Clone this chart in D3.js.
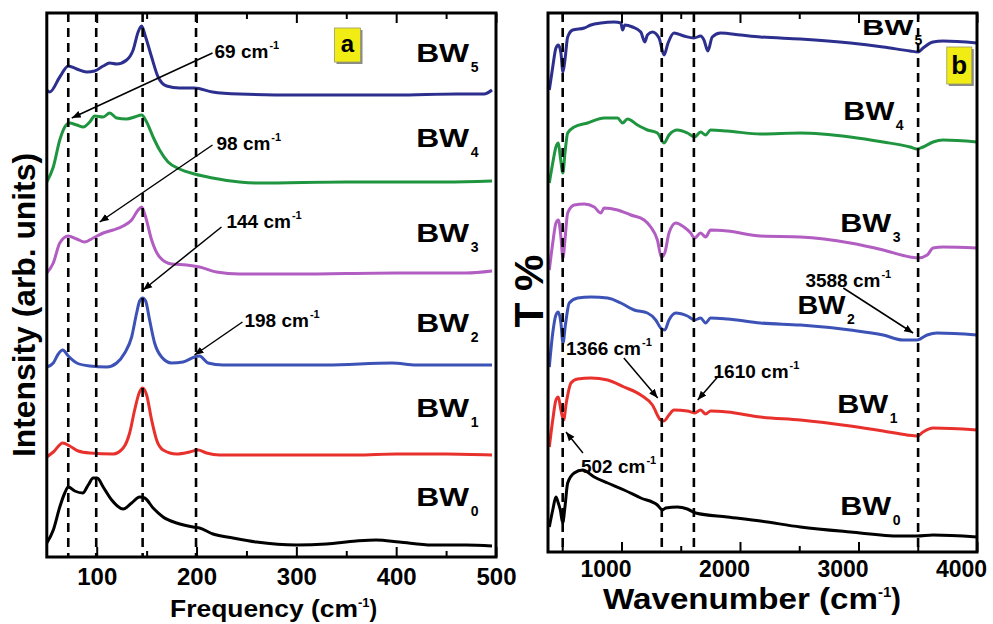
<!DOCTYPE html>
<html><head><meta charset="utf-8">
<script src="https://cdn.jsdelivr.net/npm/d3@7"></script>
<style>body{margin:0;background:#fff}svg{display:block}text{font-family:"Liberation Sans",Arial,sans-serif;font-weight:bold}</style>
</head><body><svg id="c" width="993" height="624"></svg>
<script>
// ---------- DATA ----------
const seriesNames = ["BW0","BW1","BW2","BW3","BW4","BW5"];
const seriesColors = ["#000000","#e8302c","#3c52b6","#b15dc1","#1f9540","#2c2f8e"];

// Panel a: Raman, [frequency cm-1, intensity (offset, arb.)]
const ramanBW0 = [[50,14],[56.5,27],[63,50],[68,64],[71.5,70],[78,66],[86,64],[91.5,72],[96.5,79],[100.5,79],[106.5,70],[115,57],[126.5,48],[135,54],[143,60],[148,59],[156.5,49],[166.5,40],[180,34],[196.5,30],[203,29],[216.5,23],[236.5,19],[260,15],[300,12],[330,13],[360,16],[380,17],[403,15],[436,12],[470,12],[496,11]];
const ramanBW1 = [[50,100],[56.5,105],[66,114],[73,111],[81.5,106],[93,104],[116.5,103],[126.5,109],[133,124],[138,147],[142.5,164],[146,169],[150,162],[155,137],[160,117],[166.5,107],[180,103],[193,105],[201.5,107],[210,104],[223,102],[300,102],[360,102],[400,103],[450,103],[496,102]];
const ramanBW2 = [[50,190],[56.5,194],[61.5,203],[66,207],[71.5,201],[80,194],[93,191],[110,190],[120,194],[128,204],[135,220],[140,244],[143,256],[146,259],[149,256],[153,237],[158,214],[165,200],[175,194],[186.5,195],[198,200],[203,201],[211.5,194],[226.5,192],[260,192],[330,192],[396,194],[420,192],[496,192]];
const ramanBW3 = [[50,284],[56.5,294],[63,314],[71.5,321],[80,318],[88,315],[96.5,319],[106.5,324],[116.5,327],[126.5,331],[135,337],[141.5,347],[145,350],[149,340],[155,317],[163,300],[175,293],[190,292],[203,290],[220,285],[243,283],[300,283],[400,284],[470,284],[496,286]];
const ramanBW4 = [[50,375],[56.5,390],[63,417],[68,430],[72.5,434],[80,432],[86.5,430],[93,435],[98,441],[106.5,440],[113,444],[120,439],[130,438],[138,440],[145,442],[150,435],[156.5,420],[163,407],[171.5,395],[183,388],[198,383],[216,379],[243,375],[263,374],[350,375],[450,375],[496,376]];
const ramanBW5 = [[50,467],[53,465],[63,480],[71.5,491],[80,488],[90,485],[98,486],[106.5,491],[113,494],[120,493],[130,497],[136.5,507],[141.5,525],[145,531],[149,520],[155,500],[161.5,480],[170,471],[183,469],[198,469],[216,465],[243,463],[300,462],[400,462],[460,463],[488,463],[496,467]];

// Panel b: FTIR, [wavenumber cm-1, T% (offset)]
const ftirBW0 = [[391,25],[420,42],[447,55],[467,49],[484,42],[504,29],[523,45],[546,69],[601,79],[672,82],[770,75],[883,69],[1022,62],[1163,54],[1303,47],[1346,42],[1373,44],[1472,45],[1556,43],[1626,39],[1893,35],[2173,31],[2510,25],[2931,20],[3352,16],[3495,16],[3629,17],[4000,15]];
const ftirBW1 = [[391,105],[420,132],[447,152],[467,155],[489,142],[512,132],[534,149],[574,169],[630,173],[742,174],[883,172],[1022,165],[1163,157],[1261,147],[1331,132],[1359,131],[1401,137],[1443,142],[1556,141],[1617,139],[1668,142],[1710,138],[1752,141],[1893,140],[2173,135],[2510,132],[2931,126],[3208,121],[3410,117],[3495,116],[3545,120],[3629,124],[4000,122]];
const ftirBW2 = [[391,185],[420,219],[447,237],[467,240],[489,229],[506,209],[529,229],[559,249],[630,254],[742,255],[883,254],[995,249],[1107,242],[1219,239],[1289,232],[1331,224],[1365,222],[1401,232],[1458,239],[1556,236],[1617,232],[1668,234],[1710,229],[1752,234],[1893,233],[2173,229],[2510,227],[2931,222],[3208,217],[3377,212],[3495,212],[3579,217],[3663,219],[4000,217]];
const ftirBW3 = [[391,282],[420,309],[447,329],[467,332],[489,315],[506,294],[523,312],[546,339],[601,347],[686,348],[770,345],[826,339],[854,344],[967,342],[1079,337],[1191,332],[1247,325],[1303,312],[1337,295],[1365,299],[1401,319],[1458,329],[1527,325],[1584,319],[1617,314],[1668,319],[1710,315],[1752,322],[1893,321],[2173,316],[2510,315],[2931,309],[3208,302],[3436,295],[3503,294],[3580,297],[3629,304],[3713,305],[4000,304]];
const ftirBW4 = [[391,369],[420,389],[447,405],[467,409],[484,395],[506,379],[523,399],[546,419],[601,425],[714,429],[854,434],[967,434],[1009,429],[1051,433],[1135,427],[1219,422],[1303,419],[1359,409],[1401,417],[1472,422],[1556,419],[1617,415],[1668,420],[1710,417],[1752,422],[1893,421],[2173,418],[2510,419],[2931,415],[3208,410],[3436,405],[3495,403],[3545,405],[3629,410],[3713,412],[4000,410]];
const ftirBW5 = [[391,462],[420,485],[447,504],[467,507],[489,499],[506,480],[523,492],[546,515],[588,522],[686,524],[742,527],[826,529],[938,530],[995,529],[1009,522],[1028,527],[1093,525],[1163,520],[1197,510],[1219,517],[1261,520],[1317,514],[1359,497],[1393,509],[1443,519],[1527,516],[1612,514],[1668,516],[1696,512],[1729,501],[1766,515],[1836,519],[2005,517],[2173,515],[2510,513],[2931,509],[3208,505],[3436,501],[3503,500],[3545,504],[3629,510],[3713,511],[4000,509]];

const ramanTicks = [100,200,300,400,500];
const ramanMinor = [150,250,350,450];
const ftirTicks = [1000,2000,3000,4000];
const ftirMinor = [500,1500,2500,3500];
const ramanDashed = [71.5,99.5,146,199.5];
const ftirDashed = [504,1340,1611,3503];

// label positions in data units: [x, y]
const ramanLabelPos = [[420,51],[420,140],[420,225],[420,315],[420,410],[420,495]];
const ftirLabelPos  = [[2846,37],[2821,139],[2485,238],[2846,320],[2872,432],[3032,517]];
// annotations: text, text anchor point, arrow tail, arrow tip
const ramanNotes = [
  {t:"69 cm", at:[218,499], tail:[216,504], tip:[75,439]},
  {t:"98 cm", at:[220,407], tail:[216,412], tip:[103,335]},
  {t:"144 cm", at:[230,329], tail:[225,330], tip:[146.5,267]},
  {t:"198 cm", at:[248,230], tail:[246,235], tip:[198,202]}
];
const ftirNotes = [
  {t:"3588 cm", at:[2552,265], tail:[2872,264], tip:[3461,219]},
  {t:"1366 cm", at:[532,197], tail:[1020,194], tip:[1306,154]},
  {t:"1610 cm", at:[1777,174], tail:[1811,175], tip:[1643,152]},
  {t:"502 cm", at:[658,79], tail:[675,99], tip:[532,120]}
];

// ---------- DRAW ----------
const svg = d3.select("#c");
svg.append("rect").attr("width",993).attr("height",624).attr("fill","#fff");
const defs = svg.append("defs");
defs.append("marker").attr("id","ah").attr("viewBox","0 0 10 10").attr("refX",10).attr("refY",5)
  .attr("markerWidth",9).attr("markerHeight",9).attr("markerUnits","userSpaceOnUse").attr("orient","auto")
  .append("path").attr("d","M0,1 L10,5 L0,9 Z").attr("fill","#000");

function panel(cfg){
  const {x,y,series,ticks,minor,dashed,labelPos,labelFont,notes,id,tickFont,tickPad,tickDx,noteFont} = cfg;
  const [x0,x1] = x.range(), [y0,y1] = y.range();
  const g = svg.append("g");
  defs.append("clipPath").attr("id","clip"+id).append("rect")
    .attr("x",x0).attr("y",y1).attr("width",x1-x0).attr("height",y0-y1);

  notes.forEach(n=>{
    const t = g.append("text").attr("x",x(n.at[0])).attr("y",y(n.at[1])).attr("font-size",noteFont).attr("fill","#000");
    t.append("tspan").text(n.t);
    t.append("tspan").attr("dy",-9).attr("dx",1).attr("font-size",11).text("-1");
  });

  const line = d3.line().x(d=>x(d[0])).y(d=>y(d[1])).curve(d3.curveMonotoneX);
  const cg = g.append("g").attr("clip-path",`url(#clip${id})`);
  series.forEach((s,i)=>{
    cg.append("path").attr("d",line(s)).attr("fill","none").attr("stroke",seriesColors[i])
      .attr("stroke-width",3).attr("stroke-linejoin","round");
  });
  cg.selectAll("line.d").data(dashed).join("line")
    .attr("x1",d=>x(d)).attr("x2",d=>x(d)).attr("y1",y1).attr("y2",y0)
    .attr("stroke","#000").attr("stroke-width",2.6).attr("stroke-dasharray","9,6");

  notes.forEach(n=>{
    g.append("line").attr("x1",x(n.tail[0])).attr("y1",y(n.tail[1]))
      .attr("x2",x(n.tip[0])).attr("y2",y(n.tip[1]))
      .attr("stroke","#000").attr("stroke-width",1.5).attr("marker-end","url(#ah)");
  });

  labelPos.forEach((p,i)=>{
    const fs = (id==="b" && i===5) ? 22 : labelFont;
    const tx = g.append("text").attr("x",x(p[0])).attr("y",y(p[1])).attr("font-size",fs).attr("fill","#000")
      .attr("textLength", id==="a"?53:(i===2?48:51)).attr("lengthAdjust","spacingAndGlyphs").text("BW");
    const bb = tx.node().getBBox();
    g.append("text").attr("x",bb.x+bb.width+1).attr("y",y(p[1])+10).attr("font-size",14).attr("fill","#000").text(seriesNames[i].slice(2));
  });

  const bottom = d3.axisBottom(x).tickValues(ticks).tickSize(-10).tickPadding(tickPad).tickFormat(d3.format("d"));
  const ab = g.append("g").attr("transform",`translate(0,${y0})`).call(bottom);
  ab.select(".domain").remove();
  ab.selectAll("line").attr("stroke-width",2);
  ab.selectAll("text").attr("font-size",tickFont).attr("font-family","Liberation Sans, Arial, sans-serif").attr("font-weight","bold").attr("dx",tickDx);
  const bm = g.append("g").attr("transform",`translate(0,${y0})`).call(d3.axisBottom(x).tickValues(minor).tickSize(-6).tickFormat(""));
  bm.select(".domain").remove(); bm.selectAll("line").attr("stroke-width",2);
  const at = g.append("g").attr("transform",`translate(0,${y1})`).call(d3.axisTop(x).tickValues(ticks).tickSize(-10).tickFormat(""));
  at.select(".domain").remove(); at.selectAll("line").attr("stroke-width",2);
  const tm = g.append("g").attr("transform",`translate(0,${y1})`).call(d3.axisTop(x).tickValues(minor).tickSize(-6).tickFormat(""));
  tm.select(".domain").remove(); tm.selectAll("line").attr("stroke-width",2);

  g.append("rect").attr("x",x0).attr("y",y1).attr("width",x1-x0).attr("height",y0-y1)
    .attr("fill","none").attr("stroke","#000").attr("stroke-width",3);
  return g;
}

const xa = d3.scaleLinear().domain([50,500]).range([46.8,496]);
const ya = d3.scaleLinear().domain([0,544]).range([557,13]);
const xb = d3.scaleLinear().domain([380,4000]).range([548,977]);
const yb = d3.scaleLinear().domain([0,539]).range([552,13]);

panel({id:"a",x:xa,y:ya,series:[ramanBW0,ramanBW1,ramanBW2,ramanBW3,ramanBW4,ramanBW5],
  ticks:ramanTicks,minor:ramanMinor,dashed:ramanDashed,labelPos:ramanLabelPos,labelFont:26,
  notes:ramanNotes,tickFont:24,tickPad:11,tickDx:0,noteFont:19});
panel({id:"b",x:xb,y:yb,series:[ftirBW0,ftirBW1,ftirBW2,ftirBW3,ftirBW4,ftirBW5],
  ticks:ftirTicks,minor:ftirMinor,dashed:ftirDashed,labelPos:ftirLabelPos,labelFont:25,
  notes:ftirNotes,tickFont:23,tickPad:9,tickDx:-16,noteFont:19});

function tag(x,y,dx,dy,w,h,letter,fs){
  const px=x(dx), py=y(dy);
  svg.append("rect").attr("x",px+2).attr("y",py+2).attr("width",w).attr("height",h).attr("fill","#8a8a8a");
  svg.append("rect").attr("x",px).attr("y",py).attr("width",w).attr("height",h).attr("fill","#f0ec14").attr("stroke","#9a9a60").attr("stroke-width",0.8);
  svg.append("text").attr("x",px+w/2).attr("y",py+h*0.72).attr("text-anchor","middle").attr("font-size",fs).text(letter);
}
tag(xa,ya,338.2,529,26,34,"a",24);
tag(xb,yb,3745,505,25,37,"b",26);

const ft = svg.append("text").attr("x",170).attr("y",617).attr("font-size",23);
ft.append("tspan").attr("textLength",188).attr("lengthAdjust","spacingAndGlyphs").text("Frequency (cm");
ft.append("tspan").attr("dy",-10).attr("font-size",13).text("-1");
ft.append("tspan").attr("dy",10).text(")");

const wt = svg.append("text").attr("x",603).attr("y",609).attr("font-size",29);
wt.append("tspan").attr("textLength",275).attr("lengthAdjust","spacingAndGlyphs").text("Wavenumber (cm");
wt.append("tspan").attr("dy",-12).attr("font-size",15).text("-1");
wt.append("tspan").attr("dy",12).text(")");

svg.append("text").attr("transform","translate(35,305) rotate(-90)").attr("text-anchor","middle")
  .attr("font-size",31).attr("textLength",304).attr("lengthAdjust","spacingAndGlyphs").text("Intensity (arb. units)");
svg.append("text").attr("transform","translate(543,291) rotate(-90)").attr("text-anchor","middle")
  .attr("font-size",41).text("T %");
</script></body></html>
